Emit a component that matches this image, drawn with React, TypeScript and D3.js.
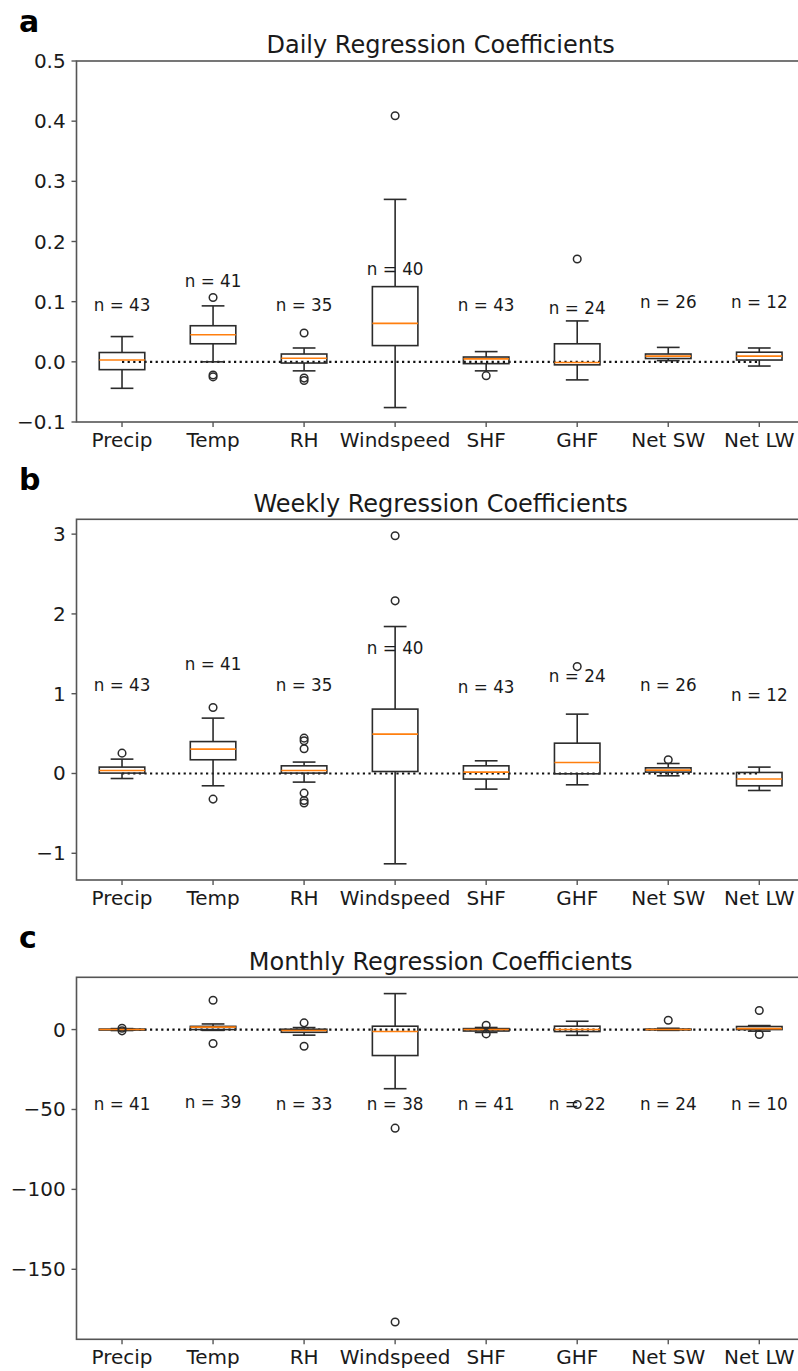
import React from "react";
import * as d3 from "d3";

const categories = ["Precip", "Temp", "RH", "Windspeed", "SHF", "GHF", "Net SW", "Net LW"];

// Panel a: Daily
const dailyWhiskLo = [-0.044, 0.0, -0.015, -0.076, -0.015, -0.030, 0.002, -0.007];
const dailyQ1 = [-0.013, 0.030, -0.002, 0.027, -0.003, -0.005, 0.0055, 0.003];
const dailyMed = [0.003, 0.045, 0.006, 0.064, 0.005, -0.001, 0.0095, 0.0095];
const dailyQ3 = [0.0155, 0.060, 0.013, 0.125, 0.008, 0.030, 0.013, 0.016];
const dailyWhiskHi = [0.042, 0.093, 0.023, 0.270, 0.017, 0.068, 0.024, 0.023];
const dailyOutliers = [[], [0.107, -0.022, -0.025], [0.048, -0.027, -0.031], [0.409], [-0.023], [0.171], [], []];
const dailyN = [43, 41, 35, 40, 43, 24, 26, 12];
const dailyNy = [0.094, 0.134, 0.094, 0.154, 0.094, 0.090, 0.099, 0.099];
const dailyTicks = [-0.1, 0.0, 0.1, 0.2, 0.3, 0.4, 0.5];

// Panel b: Weekly
const weeklyWhiskLo = [-0.063, -0.154, -0.108, -1.132, -0.196, -0.142, -0.029, -0.213];
const weeklyQ1 = [0.005, 0.172, 0.005, 0.025, -0.070, -0.004, 0.017, -0.154];
const weeklyMed = [0.038, 0.305, 0.038, 0.494, 0.017, 0.138, 0.042, -0.070];
const weeklyQ3 = [0.080, 0.400, 0.096, 0.807, 0.096, 0.380, 0.071, 0.013];
const weeklyWhiskHi = [0.180, 0.694, 0.143, 1.842, 0.159, 0.744, 0.125, 0.080];
const weeklyOutliers = [[0.255], [0.827, -0.321], [0.443, 0.41, 0.31, -0.246, -0.338, -0.37], [2.98, 2.164], [], [1.34], [0.172], []];
const weeklyN = [43, 41, 35, 40, 43, 24, 26, 12];
const weeklyNy = [1.11, 1.375, 1.11, 1.571, 1.09, 1.216, 1.11, 0.986];
const weeklyTicks = [-1, 0, 1, 2, 3];

// Panel c: Monthly
const monthlyWhiskLo = [-0.6, -0.5, -3.5, -37.0, -1.8, -3.6, -0.5, -1.0];
const monthlyQ1 = [-0.3, 0.0, -1.7, -16.25, -0.9, -1.25, -0.2, 0.0];
const monthlyMed = [0.0, 1.5, -0.6, -1.25, 0.0, 0.0, 0.0, 0.6];
const monthlyQ3 = [0.3, 2.0, 0.2, 2.1, 0.6, 2.1, 0.3, 1.9];
const monthlyWhiskHi = [0.6, 3.5, 1.25, 22.5, 1.3, 5.2, 0.8, 2.5];
const monthlyOutliers = [[0.8, -0.8], [18.3, -8.75], [4.2, -10.4], [-61.7, -183.0], [2.7, -2.7], [-46.9], [5.8], [11.9, -3.1]];
const monthlyN = [41, 39, 33, 38, 41, 22, 24, 10];
const monthlyNy = [-46.4, -45.4, -46.4, -46.4, -46.4, -46.4, -46.4, -46.4];
const monthlyTicks = [-150, -100, -50, 0];

const FONT = "DejaVu Sans";
const X_LEFT = 76.5;
const X_RIGHT = 804.8;
const TITLE_CX = (X_LEFT + X_RIGHT) / 2;
const EDGE = "#2b2b2b";
const FRAME = "#555";
const ORANGE = "#ff7f0e";

type PanelProps = {
  letter: string;
  title: string;
  top: number;
  bottom: number;
  domain: [number, number];
  ticks: number[];
  fmt: (v: number) => string;
  lo: number[];
  q1: number[];
  med: number[];
  q3: number[];
  hi: number[];
  outliers: number[][];
  n: number[];
  ny: number[];
};

function Panel(p: PanelProps) {
  const x = d3.scaleLinear().domain([0.5, 8.5]).range([X_LEFT, X_RIGHT]);
  const y = d3.scaleLinear().domain(p.domain).range([p.bottom, p.top]);
  const bw = x(1.25) - x(1);
  const cw = x(1.125) - x(1);
  return (
    <g>
      <text x={19} y={p.top - 29.5} fontFamily={FONT} fontWeight="bold" fontSize={30} fill="#000">
        {p.letter}
      </text>
      <text x={TITLE_CX} y={p.top - 7.7} textAnchor="middle" fontFamily={FONT} fontSize={24} fill="#1a1a1a">
        {p.title}
      </text>
      {/* zero line */}
      <line x1={x(1)} x2={x(8)} y1={y(0)} y2={y(0)} stroke="#111" strokeWidth={2.2} strokeDasharray="2.2 3.4" />
      {categories.map((c, i) => {
        const cx = x(i + 1);
        return (
          <g key={c}>
            <line x1={cx} x2={cx} y1={y(p.q1[i])} y2={y(p.lo[i])} stroke={EDGE} strokeWidth={1.6} />
            <line x1={cx} x2={cx} y1={y(p.q3[i])} y2={y(p.hi[i])} stroke={EDGE} strokeWidth={1.6} />
            <line x1={cx - cw} x2={cx + cw} y1={y(p.lo[i])} y2={y(p.lo[i])} stroke={EDGE} strokeWidth={1.6} />
            <line x1={cx - cw} x2={cx + cw} y1={y(p.hi[i])} y2={y(p.hi[i])} stroke={EDGE} strokeWidth={1.6} />
            <rect
              x={cx - bw}
              y={y(p.q3[i])}
              width={bw * 2}
              height={Math.max(0.01, y(p.q1[i]) - y(p.q3[i]))}
              fill="none"
              stroke={EDGE}
              strokeWidth={1.6}
            />
            <line x1={cx - bw} x2={cx + bw} y1={y(p.med[i])} y2={y(p.med[i])} stroke={ORANGE} strokeWidth={1.6} />
            {p.outliers[i].map((o, k) => (
              <circle key={k} cx={cx} cy={y(o)} r={3.8} fill="none" stroke={EDGE} strokeWidth={1.5} />
            ))}
            <text
              x={cx}
              y={y(p.ny[i])}
              textAnchor="middle"
              dominantBaseline="central"
              fontFamily={FONT}
              fontSize={16.8}
              fill="#1a1a1a"
            >
              {"n = " + p.n[i]}
            </text>
            <line x1={cx} x2={cx} y1={p.bottom} y2={p.bottom + 5} stroke={FRAME} strokeWidth={1.4} />
            <text x={cx} y={p.bottom + 24.5} textAnchor="middle" fontFamily={FONT} fontSize={20} fill="#1a1a1a">
              {c}
            </text>
          </g>
        );
      })}
      {p.ticks.map((t) => (
        <g key={t}>
          <line x1={X_LEFT - 5} x2={X_LEFT} y1={y(t)} y2={y(t)} stroke={FRAME} strokeWidth={1.4} />
          <text
            x={X_LEFT - 10.8}
            y={y(t)}
            textAnchor="end"
            dominantBaseline="central"
            fontFamily={FONT}
            fontSize={20}
            fill="#1a1a1a"
          >
            {p.fmt(t)}
          </text>
        </g>
      ))}
      <rect x={X_LEFT} y={p.top} width={X_RIGHT - X_LEFT} height={p.bottom - p.top} fill="none" stroke={FRAME} strokeWidth={1.6} />
    </g>
  );
}

const minus = (s: string) => s.replace("-", "\u2212");

export default function App() {
  return (
    <svg
      width={798}
      height={1371}
      style={{ position: "absolute", left: 0, top: 0, background: "#fff" }}
    >
      <rect x={0} y={0} width={798} height={1371} fill="#fff" />
      <Panel
        letter="a"
        title="Daily Regression Coefficients"
        top={61}
        bottom={422}
        domain={[-0.1, 0.5]}
        ticks={dailyTicks}
        fmt={(v) => minus(d3.format(".1f")(v))}
        lo={dailyWhiskLo}
        q1={dailyQ1}
        med={dailyMed}
        q3={dailyQ3}
        hi={dailyWhiskHi}
        outliers={dailyOutliers}
        n={dailyN}
        ny={dailyNy}
      />
      <Panel
        letter="b"
        title="Weekly Regression Coefficients"
        top={519.3}
        bottom={880}
        domain={[-1.335, 3.186]}
        ticks={weeklyTicks}
        fmt={(v) => minus(d3.format("d")(v))}
        lo={weeklyWhiskLo}
        q1={weeklyQ1}
        med={weeklyMed}
        q3={weeklyQ3}
        hi={weeklyWhiskHi}
        outliers={weeklyOutliers}
        n={weeklyN}
        ny={weeklyNy}
      />
      <Panel
        letter="c"
        title="Monthly Regression Coefficients"
        top={977.3}
        bottom={1339.3}
        domain={[-193.8, 32.7]}
        ticks={monthlyTicks}
        fmt={(v) => minus(d3.format("d")(v))}
        lo={monthlyWhiskLo}
        q1={monthlyQ1}
        med={monthlyMed}
        q3={monthlyQ3}
        hi={monthlyWhiskHi}
        outliers={monthlyOutliers}
        n={monthlyN}
        ny={monthlyNy}
      />
    </svg>
  );
}
